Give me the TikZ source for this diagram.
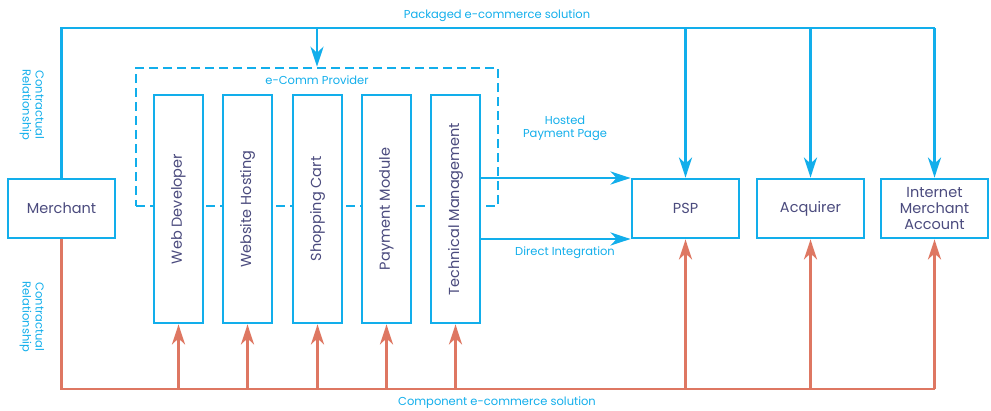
\documentclass[tikz,border=0pt]{standalone}
\usepackage{fontspec}
\setmainfont{Poppins}
\usetikzlibrary{arrows.meta,calc}
\definecolor{cblue}{HTML}{12AEEB}
\definecolor{corange}{HTML}{DE7762}
\definecolor{ctext}{HTML}{4B4B7E}
\begin{document}
\begin{tikzpicture}[x=1pt,y=-1pt,
  box/.style={draw=cblue, line width=2.8pt, fill=white, text=ctext, inner sep=0pt, align=center, font=\fontsize{14.5}{16}\selectfont},
  vbox/.style={box, minimum width=49pt, minimum height=228pt},
  hbox/.style={box, minimum width=107pt, minimum height=59pt},
  lbl/.style={text=cblue, font=\fontsize{11.5}{13}\selectfont, align=center, inner sep=0pt},
  bline/.style={draw=cblue, line width=2.8pt},
  barrow/.style={bline, -{Stealth[length=20pt,width=13pt,inset=6pt]}},
  oline/.style={draw=corange, line width=2.8pt},
  oarrow/.style={oline, -{Stealth[length=20pt,width=13pt,inset=6pt]}},
  dbox/.style={draw=cblue, line width=2.5pt, dash pattern=on 9pt off 5pt, minimum width=362pt, minimum height=138pt, inner sep=0pt}
]
\useasboundingbox (0,0) rectangle (991,410);
% dashed provider box
\node[dbox] (ecomm) at (317,137) {};
\node[lbl] (ecommlbl) at (317,80) {e-Comm Provider};
% boxes
\node[hbox] (merchant) at (61.5,208.5) {Merchant};
\node[vbox] (wd) at (178.5,209) {\rotatebox{90}{Web Developer}};
\node[vbox] (wh) at (247.5,209) {\rotatebox{90}{Website Hosting}};
\node[vbox] (sc) at (317.5,209) {\rotatebox{90}{Shopping Cart}};
\node[vbox] (pm) at (386.5,209) {\rotatebox{90}{Payment Module}};
\node[vbox] (tm) at (455.5,209) {\rotatebox{90}{Technical Management}};
\node[hbox] (psp) at (685.5,208.5) {PSP};
\node[hbox] (acq) at (810.5,208.5) {Acquirer};
\node[hbox] (ima) at (934.5,208.5) {Internet\\Merchant\\Account};
% top (packaged) connectors
\coordinate (tr) at (934.5,28);
\coordinate (br) at (934.5,389);
\draw[bline] (merchant.north) |- (tr);
\draw[barrow] (tr) -- (ima.north);
\draw[barrow] (acq.north |- tr) -- (acq.north);
\draw[barrow] (psp.north |- tr) -- (psp.north);
\draw[barrow] (ecomm.north |- tr) -- (ecomm.north);
% provider to PSP
\draw[barrow] (tm.east |- 0,178) -- (psp.west |- 0,178);
\draw[barrow] (tm.east |- 0,239) -- (psp.west |- 0,239);
% bottom (component) connectors
\draw[oline] (merchant.south) |- (br);
\draw[oarrow] (br) -- (ima.south);
\foreach \n in {wd,wh,sc,pm,tm,psp,acq}{
  \draw[oarrow] (\n.south |- br) -- (\n.south);
}
% labels
\node[lbl] (pkg) at (497,16) {Packaged e-commerce solution};
\node[lbl] (cmp) at (497,403) {Component e-commerce solution};
\node[lbl, rotate=-90] (cr1) at (32,105) {Contractual\\Relationship};
\node[lbl, rotate=-90] (cr2) at (32,317) {Contractual\\Relationship};
\node[lbl] (hpp) at (565,128) {Hosted\\Payment Page};
\node[lbl] (di) at (565,253) {Direct Integration};
\end{tikzpicture}
\end{document}
